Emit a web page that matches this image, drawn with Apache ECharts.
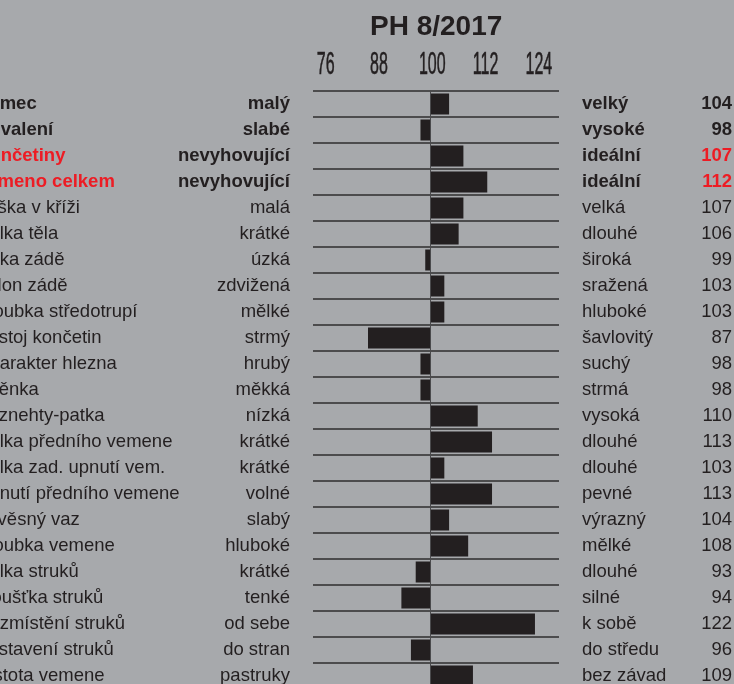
<!DOCTYPE html>
<html>
<head>
<meta charset="utf-8">
<script src="https://cdn.jsdelivr.net/npm/echarts@6/dist/echarts.min.js"></script>
<style>
html,body{margin:0;padding:0;background:#a7a9ac;}
#chart{width:734px;height:684px;}
</style>
</head>
<body>
<div id="chart"></div>
<script>
const title = 'PH 8/2017';
const traits = ['Rámec','Osvalení','Končetiny','Vemeno celkem','Výška v kříži','Délka těla','Šířka zádě','Sklon zádě','Hloubka středotrupí','Postoj končetin','Charakter hlezna','Spěnka','Paznehty-patka','Délka předního vemene','Délka zad. upnutí vem.','Upnutí předního vemene','Závěsný vaz','Hloubka vemene','Délka struků','Tloušťka struků','Rozmístění struků','Postavení struků','Čistota vemene'];
const leftDesc = ['malý','slabé','nevyhovující','nevyhovující','malá','krátké','úzká','zdvižená','mělké','strmý','hrubý','měkká','nízká','krátké','krátké','volné','slabý','hluboké','krátké','tenké','od sebe','do stran','pastruky'];
const rightDesc = ['velký','vysoké','ideální','ideální','velká','dlouhé','široká','sražená','hluboké','šavlovitý','suchý','strmá','vysoká','dlouhé','dlouhé','pevné','výrazný','mělké','dlouhé','silné','k sobě','do středu','bez závad'];
// printed values (right column)
const values = [104,98,107,112,107,106,99,103,103,87,98,98,110,113,103,113,104,108,93,94,122,96,109];
// bar lengths as drawn in the picture (differs from printed value for "Délka struků")
const barValues = [104,98,107,112,107,106,99,103,103,87,98,98,110,113,103,113,104,108,97,94,122,96,109];
const tickValues = [76,88,100,112,124];
const baseValue = 100;

const INK = '#231f20';
const RED = '#ed1c24';
const FONT = '"Liberation Sans", Arial, Helvetica, sans-serif';
const FS = 18.5;
const rich = {
  b: {fontWeight:'bold', fontSize:FS, color:INK, fontFamily:FONT},
  r: {fontWeight:'bold', fontSize:FS, color:RED, fontFamily:FONT}
};
function styled(arr, redRows) {
  return function (v, i) {
    const t = String(arr[i]);
    if (i < 4) return (redRows && i >= 2) ? '{r|' + t + '}' : '{b|' + t + '}';
    return t;
  };
}
const labelBase = {color:INK, fontSize:FS, fontFamily:FONT, interval:0, rich:rich};
const hiddenAxisParts = {axisLine:{show:false}, axisTick:{show:false}, splitLine:{show:false}};

const chart = echarts.init(document.getElementById('chart'), null, {renderer:'canvas'});
chart.setOption({
  backgroundColor:'#a7a9ac',
  animation:false,
  title:{
    text:title, left:370, top:13, padding:0,
    textStyle:{fontSize:28, fontWeight:'bold', color:INK, fontFamily:FONT}
  },
  grid:{left:313, top:91, width:246, height:598, outerBoundsMode:'none', containLabel:false},
  xAxis:[
    {type:'value', min:-24.53, max:27.04, show:false},
    {type:'value', position:'top', min:73.13, max:128.54,
     axisLine:{show:false}, axisTick:{show:false}, splitLine:{show:false},
     axisLabel:{show:false}}
  ],
  yAxis:[
    Object.assign({type:'category', data:traits, inverse:true, position:'left',
      axisLabel:Object.assign({}, labelBase, {margin:23, align:'right', formatter:styled(leftDesc,false)})},
      hiddenAxisParts, {splitLine:{show:true, lineStyle:{color:'#2e2e2e', width:1.6}}}),
    Object.assign({type:'category', data:traits, inverse:true, position:'left',
      axisLabel:Object.assign({}, labelBase, {margin:337, align:'left', formatter:styled(traits,true)})},
      hiddenAxisParts),
    Object.assign({type:'category', data:traits, inverse:true, position:'right',
      axisLabel:Object.assign({}, labelBase, {margin:23, align:'left', formatter:styled(rightDesc,false)})},
      hiddenAxisParts),
    Object.assign({type:'category', data:traits, inverse:true, position:'right',
      axisLabel:Object.assign({}, labelBase, {margin:173, align:'right', formatter:styled(values,true)})},
      hiddenAxisParts)
  ],
  series:[{
    type:'bar', xAxisIndex:0, yAxisIndex:0, barWidth:21,
    data:barValues.map(v => v - baseValue),
    itemStyle:{color:INK},
    silent:true,
    markLine:{silent:true, symbol:'none', label:{show:false},
      lineStyle:{color:'#4a4a4c', width:1, type:'solid'},
      data:[{xAxis:0}]}
  }]
});

// Condensed tick labels for the top scale, positioned through the axis scale (xAxis 1)
const tickGraphics = tickValues.map(function (v) {
  const px = chart.convertToPixel({xAxisIndex:1}, v);
  return {
    type:'text', x:px, y:65.5, scaleX:0.5, silent:true,
    style:{text:String(v), fontSize:32, fontFamily:FONT, fill:INK, align:'center', verticalAlign:'middle',
      stroke:INK, lineWidth:0.6}
  };
});
chart.setOption({graphic:tickGraphics});
</script>
</body>
</html>
